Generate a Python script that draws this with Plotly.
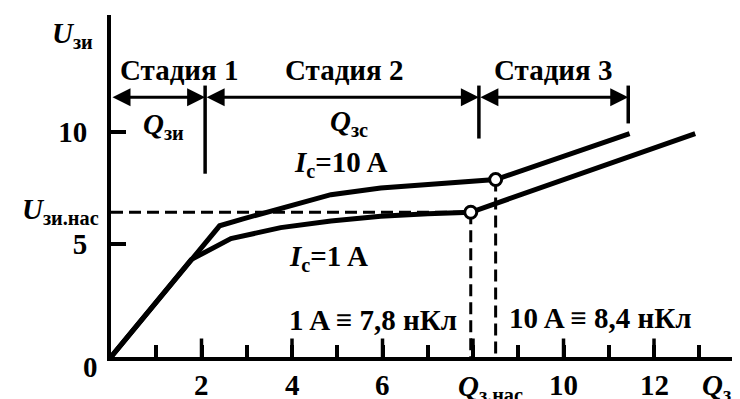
import plotly.graph_objects as go

# gate charge curve U_gs(Q_g)
q_1a = [0, 1.77, 2.65, 3.75, 4.86, 5.96, 7.0, 7.95, 12.91]
u_1a = [0, 4.32, 5.25, 5.74, 6.03, 6.24, 6.35, 6.42, 9.91]

q_10a = [0, 1.77, 2.4, 2.9, 3.75, 4.86, 5.96, 7.0, 7.73, 8.5, 11.46]
u_10a = [0, 4.32, 5.82, 6.12, 6.6, 7.2, 7.5, 7.65, 7.72, 7.87, 9.91]

# saturation points
q_sat = [7.95, 8.5]
u_sat = [6.42, 7.87]
u_plateau = 6.42

# stage boundaries and arrow level
stage_bounds = [0, 2.08, 8.13, 11.43]
stage_top = 12.04
stage_bottom = [8.13, 9.69, 10.36]
stage_y = 11.52
stage_names = ['Стадия 1', 'Стадия 2', 'Стадия 3']
stage_label_x = [1.5, 5.14, 9.76]

x_ticks = [2, 4, 6, 8, 10, 12]
x_ticktext = ['2', '4', '6', '', '10', '12']
x_minor = [1, 3, 5, 7, 9, 11, 13]
y_ticks = [5, 10]

FONT = 'Liberation Serif'
ink = 'black'
MAJOR_LEN = 0.82   # major tick height in y units (~18px)

fig = go.Figure()

for q, u in [(q_1a, u_1a), (q_10a, u_10a)]:
    fig.add_trace(go.Scatter(x=q, y=u, mode='lines',
                             line=dict(color=ink, width=5)))

# plateau level and saturation charges
fig.add_trace(go.Scatter(x=[0, q_sat[0]], y=[u_plateau, u_plateau],
                         mode='lines',
                         line=dict(color=ink, width=3, dash='12px,6px')))
for q, u in zip(q_sat, u_sat):
    fig.add_trace(go.Scatter(x=[q, q], y=[u, 0], mode='lines',
                             line=dict(color=ink, width=3, dash='12px,6px')))

# stage separators
for b, lo in zip(stage_bounds[1:], stage_bottom):
    fig.add_trace(go.Scatter(x=[b, b], y=[stage_top, lo], mode='lines',
                             line=dict(color=ink, width=3.5)))

fig.add_trace(go.Scatter(x=q_sat, y=u_sat, mode='markers',
                         marker=dict(symbol='circle', size=12, color='white',
                                     line=dict(color=ink, width=3))))

# major ticks on the charge axis (upward strokes), drawn on the overlay axis
for t in x_ticks:
    fig.add_trace(go.Scatter(x=[t, t], y=[0, MAJOR_LEN], mode='lines',
                             xaxis='x2', cliponaxis=False,
                             line=dict(color=ink, width=3.5)))

all_ticks = sorted(x_ticks + x_minor)

bold = dict(family=FONT, size=29, color=ink, weight='bold')

for i, name in enumerate(stage_names):
    x0, x1 = stage_bounds[i], stage_bounds[i + 1]
    fig.add_annotation(x=x1, y=stage_y, ax=x0, ay=stage_y,
                       xref='x', yref='y', axref='x', ayref='y',
                       text='', showarrow=True, arrowside='end+start',
                       arrowhead=2, arrowsize=1.2, arrowwidth=3,
                       arrowcolor=ink)
    fig.add_annotation(x=stage_label_x[i], y=12.72, text=name,
                       showarrow=False, font=bold)

# charge tick labels
for t, txt in zip(x_ticks, x_ticktext):
    if txt:
        fig.add_annotation(x=t, y=-0.082, xref='x', yref='paper', text=txt,
                           showarrow=False, xanchor='center',
                           yanchor='middle', font=bold)

# labels inside the plot (data coordinates)
labels = [
    (1.15, 10.26, '<i>Q</i><sub>зи</sub>'),
    (5.25, 10.39, '<i>Q</i><sub>зс</sub>'),
    (5.08, 8.58, '<i>I</i><sub>c</sub>=10 A'),
    (4.81, 4.37, '<i>I</i><sub>c</sub>=1 A'),
    (5.78, 1.62, '1 A ≡ 7,8 нКл'),
    (10.82, 1.71, '10 A ≡ 8,4 нКл'),
]
for x, y, t in labels:
    fig.add_annotation(x=x, y=y, text=t, showarrow=False, font=bold)

# labels outside the plot (paper coordinates)
outer = [
    (-0.062, 0.941, '<i>U</i><sub>зи</sub>', 'center'),
    (-0.016, 0.427, '<i>U</i><sub>зи.нас</sub>', 'right'),
    (-0.032, -0.029, '0', 'center'),
    (0.603, -0.091, '<i>Q</i><sub>з.нас</sub>', 'center'),
    (0.962, -0.088, '<i>Q</i><sub>з</sub>', 'center'),
]
for x, y, t, anchor in outer:
    fig.add_annotation(x=x, y=y, xref='paper', yref='paper', text=t,
                       showarrow=False, xanchor=anchor, yanchor='middle',
                       font=bold)

# the page body has an 8px margin, so the figure is 8px smaller
fig.update_layout(
    width=732, height=391,
    margin=dict(l=103, r=0, t=7, b=42),
    plot_bgcolor='white', paper_bgcolor='white',
    showlegend=False, hovermode=False,
    xaxis2=dict(overlaying='x', matches='x', side='bottom',
                tickmode='array', tickvals=all_ticks, showticklabels=False,
                ticks='inside', ticklen=12, tickwidth=3.5, tickcolor=ink,
                showgrid=False, zeroline=False, showline=False,
                automargin=False),
)
fig.update_layout(
    xaxis=dict(range=[0, 13.9], showgrid=False, zeroline=False,
               showline=True, linewidth=4, linecolor=ink, automargin=False,
               ticks='', showticklabels=False),
    yaxis=dict(range=[0, 15.17], showgrid=False, zeroline=False,
               showline=True, linewidth=4, linecolor=ink, automargin=False,
               tickmode='array', tickvals=y_ticks,
               ticks='inside', ticklen=15, tickwidth=3.5, tickcolor=ink,
               ticklabelstandoff=14,
               tickfont=dict(family=FONT, size=29, color=ink, weight='bold')),
)

fig.write_html('out.html')
